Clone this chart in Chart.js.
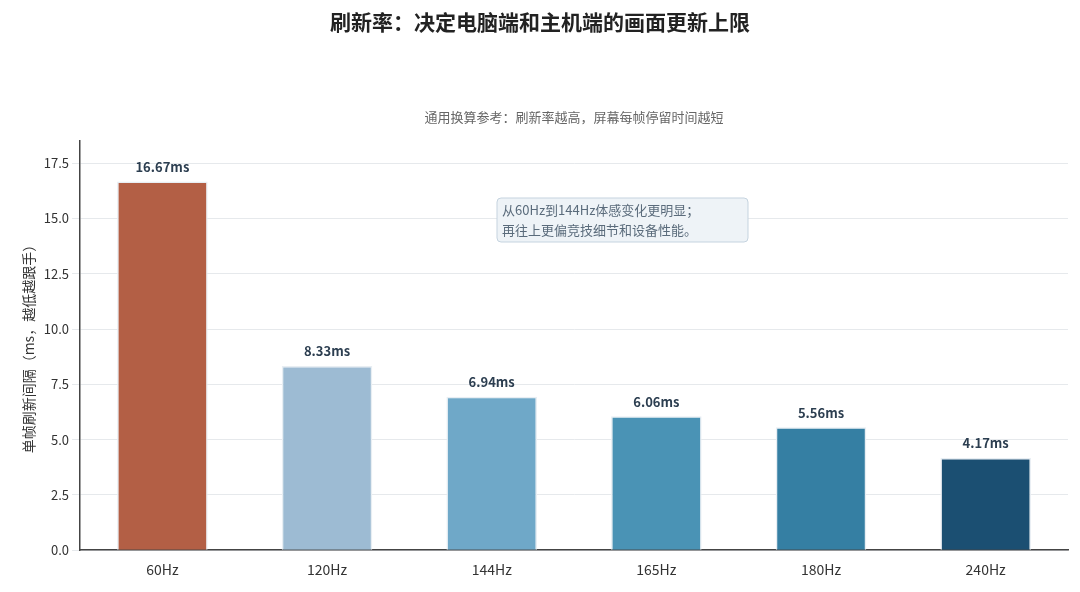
<!DOCTYPE html>
<html><head><meta charset="utf-8">
<script src="https://cdn.jsdelivr.net/npm/chart.js@4"></script>
<style>html,body{margin:0;background:#fff}#w{width:1080px;height:592px;position:relative}</style>
</head><body><div id="w"><canvas id="c"></canvas></div>
<script>
const categories=["60Hz","120Hz","144Hz","165Hz","180Hz","240Hz"];
const values=[16.67,8.33,6.94,6.06,5.56,4.17];
const valueLabels=["16.67ms","8.33ms","6.94ms","6.06ms","5.56ms","4.17ms"];
const colors=["#b35f45","#9dbbd3","#6fa8c8","#4a93b5","#357fa3","#1b4f72"];
const F='"Noto Sans CJK SC","Noto Sans",sans-serif';
const deco={id:'deco',afterDatasetsDraw(ch){const c=ch.ctx,m=ch.getDatasetMeta(0);c.save();
c.font='bold 13px '+F;c.fillStyle='#2c3e50';c.textAlign='center';c.textBaseline='bottom';
m.data.forEach((b,i)=>c.fillText(valueLabels[i],b.x,b.y-8));
c.textAlign='center';c.font='bold 21px '+F;c.fillStyle='#222';c.textBaseline='middle';
c.fillText('刷新率：决定电脑端和主机端的画面更新上限',540,22);
c.font='13px '+F;c.fillStyle='#666';c.fillText('通用换算参考：刷新率越高，屏幕每帧停留时间越短',574,117);
const x=497,y=198,w=251,h=44;c.fillStyle='#eef3f7';c.strokeStyle='#c5d3df';c.lineWidth=1;
c.beginPath();c.roundRect(x,y,w,h,4);c.fill();c.stroke();
c.fillStyle='#5a6b7b';c.textAlign='left';c.font='13px '+F;
c.fillText('从60Hz到144Hz体感变化更明显；',x+5,y+12);c.fillText('再往上更偏竞技细节和设备性能。',x+5,y+32);
c.restore();}};
new Chart(document.getElementById('c'),{type:'bar',
data:{labels:categories,datasets:[{data:values,backgroundColor:colors,borderColor:'#e8eef3',borderWidth:1.5,barPercentage:0.55,categoryPercentage:1}]},
options:{responsive:true,maintainAspectRatio:false,animation:false,
layout:{padding:{top:141,right:12,left:16,bottom:11}},
plugins:{legend:{display:false},tooltip:{enabled:false}},
scales:{x:{grid:{display:false},border:{color:'#444',width:1.5},ticks:{color:'#333',font:{size:14,family:F}}},
y:{min:0,max:18.5,afterBuildTicks(a){a.ticks=[0,2.5,5,7.5,10,12.5,15,17.5].map(v=>({value:v}))},
grid:{color:'#e6e9ec'},border:{color:'#444',width:1.5},
ticks:{color:'#333',font:{size:13,family:F},callback:v=>v.toFixed(1)},
title:{display:true,text:'单帧刷新间隔（ms，越低越跟手）',color:'#333',font:{size:14,family:F}}}}},
plugins:[deco]});
</script></body></html>
